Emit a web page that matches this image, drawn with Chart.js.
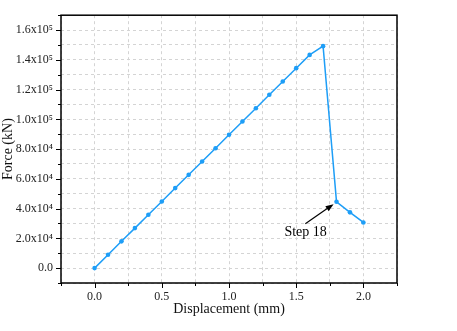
<!DOCTYPE html>
<html>
<head>
<meta charset="utf-8">
<script src="https://cdn.jsdelivr.net/npm/chart.js@4"></script>
<style>
  html, body { margin: 0; padding: 0; background: #fff; }
  #wrap { width: 457px; height: 331px; }
</style>
</head>
<body>
<div id="wrap"><canvas id="forceChart" width="457" height="331"></canvas></div>
<script>
// displacement (mm) and force (kN)
const displacement = [0, 0.1, 0.2, 0.3, 0.4, 0.5, 0.6, 0.7, 0.8, 0.9, 1.0, 1.1, 1.2, 1.3, 1.4, 1.5, 1.6, 1.7, 1.8, 1.9, 2.0]
const force = [0, 9000, 18000, 26900, 35900, 44800, 53800, 62700, 71700, 80600, 89600, 98600, 107500, 116500, 125400, 134400, 143300, 149200, 44600, 37500, 30700]

// axis ranges / tick steps
const xRange = [-0.25, 2.25]
const xStep = 0.25
const xLabelStep = 0.5
const yRange = [-10000, 170000]
const yStep = 10000
const yLabelStep = 20000

// annotation (data coords)
const noteText = 'Step 18'
const notePos = [1.57, 24000]
const arrowFrom = [1.568, 29800]
const arrowTo = [1.778, 43000]

const lineColor = '#1E9EF7'
const serif = 'Liberation Serif'

const sup = {'0':'⁰','1':'¹','2':'²','3':'³','4':'⁴','5':'⁵','6':'⁶','7':'⁷','8':'⁸','9':'⁹'}
function sciLabel(v) {
    if (v === 0) return '0.0'
    let e = Math.floor(Math.log10(Math.abs(v)))
    let m = v / Math.pow(10, e)
    return m.toFixed(1) + 'x10' + String(e).split('').map(c => sup[c]).join('')
}

function isMultiple(v, step) {
    let r = v / step
    return Math.abs(r - Math.round(r)) < 1e-6
}

function makeTicks(range, step) {
    let out = []
    let n = Math.round((range[1] - range[0]) / step)
    for (let i = 0; i <= n; i++) {
        out.push({value: +(range[0] + i * step).toFixed(6)})
    }
    return out
}

// frame, tick marks and the arrow note
const decor = {
    id: 'decor',
    afterDraw(chart) {
        const ctx = chart.ctx
        const a = chart.chartArea
        const xs = chart.scales.x
        const ys = chart.scales.y
        ctx.save()
        ctx.strokeStyle = '#000'
        ctx.lineWidth = 1
        xs.ticks.forEach(t => {
            let px = Math.round(xs.getPixelForValue(t.value)) + 0.5
            let len = isMultiple(t.value, xLabelStep) ? 5 : 3
            ctx.beginPath()
            ctx.moveTo(px, a.bottom)
            ctx.lineTo(px, a.bottom + len)
            ctx.stroke()
        })
        ys.ticks.forEach(t => {
            let py = Math.round(ys.getPixelForValue(t.value)) + 0.5
            let len = isMultiple(t.value, yLabelStep) ? 5 : 3
            ctx.beginPath()
            ctx.moveTo(a.left, py)
            ctx.lineTo(a.left - len, py)
            ctx.stroke()
        })
        ctx.lineWidth = 1.5
        ctx.strokeRect(a.left, a.top, a.right - a.left, a.bottom - a.top)

        // arrow
        let x1 = xs.getPixelForValue(arrowFrom[0]), y1 = ys.getPixelForValue(arrowFrom[1])
        let x2 = xs.getPixelForValue(arrowTo[0]), y2 = ys.getPixelForValue(arrowTo[1])
        let ang = Math.atan2(y2 - y1, x2 - x1)
        ctx.lineWidth = 1.2
        ctx.beginPath()
        ctx.moveTo(x1, y1)
        ctx.lineTo(x2 - 6 * Math.cos(ang), y2 - 6 * Math.sin(ang))
        ctx.stroke()
        ctx.fillStyle = '#000'
        ctx.beginPath()
        ctx.moveTo(x2, y2)
        ctx.lineTo(x2 - 8 * Math.cos(ang) + 3 * Math.sin(ang), y2 - 8 * Math.sin(ang) - 3 * Math.cos(ang))
        ctx.lineTo(x2 - 8 * Math.cos(ang) - 3 * Math.sin(ang), y2 - 8 * Math.sin(ang) + 3 * Math.cos(ang))
        ctx.closePath()
        ctx.fill()

        ctx.font = '14px "' + serif + '"'
        ctx.textAlign = 'center'
        ctx.textBaseline = 'middle'
        ctx.fillText(noteText, xs.getPixelForValue(notePos[0]), ys.getPixelForValue(notePos[1]))
        ctx.restore()
    }
}

const forceChart = new Chart(document.getElementById('forceChart'), {
    type: 'line',
    data: {
        datasets: [{
            data: displacement.map((d, i) => ({x: d, y: force[i]})),
            borderColor: lineColor,
            backgroundColor: lineColor,
            borderWidth: 1.5,
            pointRadius: 2.3,
            pointBorderWidth: 0,
            pointStyle: 'circle',
            tension: 0
        }]
    },
    options: {
        responsive: false,
        animation: false,
        layout: { padding: {top: 11, right: 60, bottom: 0, left: 0} },
        plugins: { legend: {display: false}, tooltip: {enabled: false} },
        scales: {
            x: {
                type: 'linear',
                min: xRange[0],
                max: xRange[1],
                afterBuildTicks: s => { s.ticks = makeTicks(xRange, xStep) },
                afterFit: s => { s.height = 48 },
                grid: { color: '#d4d4d4', lineWidth: 1, drawTicks: false },
                border: { display: false, dash: [3, 3] },
                ticks: {
                    autoSkip: false,
                    maxRotation: 0,
                    padding: 7,
                    color: '#222',
                    font: {family: serif, size: 12},
                    callback: v => isMultiple(v, xLabelStep) ? v.toFixed(1) : ''
                },
                title: {
                    display: true,
                    text: 'Displacement (mm)',
                    color: '#111',
                    font: {family: serif, size: 14},
                    padding: {top: 0, bottom: 13}
                }
            },
            y: {
                min: yRange[0],
                max: yRange[1],
                afterBuildTicks: s => { s.ticks = makeTicks(yRange, yStep) },
                afterFit: s => { s.width = 61 },
                grid: { color: '#d4d4d4', lineWidth: 1, drawTicks: false },
                border: { display: false, dash: [3, 3] },
                ticks: {
                    autoSkip: false,
                    padding: 8,
                    color: '#222',
                    font: {family: serif, size: 12},
                    callback: v => isMultiple(v, yLabelStep) ? sciLabel(v) : ''
                },
                title: {
                    display: true,
                    text: 'Force (kN)',
                    color: '#111',
                    font: {family: serif, size: 14},
                    padding: {top: 0, bottom: 0}
                }
            }
        }
    },
    plugins: [decor]
})
</script>
</body>
</html>
